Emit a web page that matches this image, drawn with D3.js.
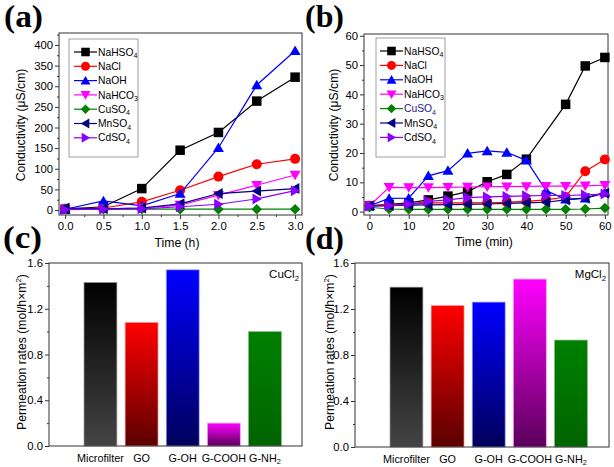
<!DOCTYPE html>
<html><head><meta charset="utf-8">
<script src="https://cdn.jsdelivr.net/npm/d3@7"></script>
<style>body{margin:0;background:#fff} svg{display:block;font-family:"Liberation Sans",Arial,sans-serif}</style>
</head><body><svg id="chart" width="614" height="467"></svg>
<script>
// ---------- DATA ----------
const seriesNames = ["NaHSO4","NaCl","NaOH","NaHCO3","CuSO4","MnSO4","CdSO4"];

// panel (a): time in hours
const timeHours = [0, 0.5, 1.0, 1.5, 2.0, 2.5, 3.0];
const aNaHSO4 = [2, 8, 52, 145, 188, 264, 322];
const aNaCl   = [3, 5, 20, 48, 81, 111, 124];
const aNaOH   = [2, 22, 10, 40, 151, 303, 386];
const aNaHCO3 = [2, 3, 5, 12, 36, 60, 85];
const aCuSO4  = [3, 2, 2, 2, 2, 2, 2];
const aMnSO4  = [5, 3, 5, 15, 40, 46, 52];
const aCdSO4  = [1, 2, 3, 8, 14, 27, 47];

// panel (b): time in minutes
const timeMin = [0, 5, 10, 15, 20, 25, 30, 35, 40, 45, 50, 55, 60];
const bNaHSO4 = [2, 2.5, 3, 4, 5.3, 6.8, 10.2, 12.7, 17.9, null, 36.6, 49.7, 52.6];
const bNaCl   = [2, 2.5, 2.5, 3, 3, 3, 3, 3.2, 3.5, 4, 5, 13.8, 17.8];
const bNaOH   = [2, 4.5, 4.6, 12.2, 14, 19.9, 20.7, 20.2, 17.5, 7.2, 4.2, 4.6, 6.6];
const bNaHCO3 = [2, 8.3, 8.2, 8.2, 8.3, 8.4, 8.5, 8.5, 8.6, 8.7, 8.7, 8.8, 9.0];
const bCuSO4  = [1.5, 0.9, 0.8, 0.8, 0.8, 0.8, 0.8, 0.8, 0.8, 0.8, 0.8, 0.9, 1.2];
const bMnSO4  = [2, 2, 2.2, 2.3, 2.4, 2.5, 2.6, 2.8, 3, 3.2, 4, 4.6, 6.3];
const bCdSO4  = [1.8, 2, 2.5, 3.5, 4, 4.8, 5, 5.2, 5.4, 5.5, 5.5, 5.7, 6];

// panels (c),(d)
const membranes = ["Microfilter", "GO", "G-OH", "G-COOH", "G-NH2"];
const cuCl2Rates = [1.43, 1.08, 1.54, 0.20, 1.00];
const mgCl2Rates = [1.39, 1.23, 1.26, 1.46, 0.93];

// ticks
const aXTicks = [0, 0.5, 1.0, 1.5, 2.0, 2.5, 3.0];
const aYTicks = [0, 50, 100, 150, 200, 250, 300, 350, 400];
const bXTicks = [0, 10, 20, 30, 40, 50, 60];
const bYTicks = [0, 10, 20, 30, 40, 50, 60];
const rateTicks = [0.0, 0.4, 0.8, 1.2, 1.6];

// ---------- STYLE ----------
const seriesColors = ["#000000", "#ff0000", "#0000ff", "#ff00ff", "#008000", "#000080", "#8a00ff"];
const seriesShapes = ["square", "circle", "up", "down", "diamond", "left", "right"];
const barTop = ["#000000", "#ff0000", "#0000ff", "#ff00ff", "#008000"];
const barBottom = ["#444444", "#5a0000", "#00005a", "#5a005a", "#006400"];
const barStroke = ["#999999", "#ff9999", "#9999ff", "#ff99ff", "#88bb88"];

const svg = d3.select("#chart");
const axisColor = "#333";

function markerPath(shape, s) {
  const h = s / 2;
  switch (shape) {
    case "square": return `M${-h*0.95},${-h*0.95}H${h*0.95}V${h*0.95}H${-h*0.95}Z`;
    case "circle": return d3.symbol(d3.symbolCircle, Math.PI * h * h)();
    case "up": return `M0,${-h*1.05}L${h*1.1},${h*0.85}L${-h*1.1},${h*0.85}Z`;
    case "down": return `M0,${h*1.05}L${h*1.1},${-h*0.85}L${-h*1.1},${-h*0.85}Z`;
    case "diamond": return `M0,${-h*1.05}L${h*1.05},0L0,${h*1.05}L${-h*1.05},0Z`;
    case "left": return `M${-h*1.05},0L${h*0.85},${-h*1.1}L${h*0.85},${h*1.1}Z`;
    case "right": return `M${h*1.05},0L${-h*0.85},${-h*1.1}L${-h*0.85},${h*1.1}Z`;
  }
}

function chemText(sel, str, size) {
  const parts = str.split(/(\d+)/).filter(p => p.length);
  let shifted = false;
  parts.forEach(p => {
    const t = sel.append("tspan").text(p);
    if (/^\d+$/.test(p)) {
      t.attr("font-size", size * 0.68).attr("dy", size * 0.25);
      shifted = true;
    } else if (shifted) {
      t.attr("dy", -size * 0.25);
      shifted = false;
    }
  });
}

function styleAxis(g) {
  g.select(".domain").remove();
  g.selectAll("line").attr("stroke", axisColor).attr("stroke-width", 1);
  g.selectAll("text").attr("fill", "#000").attr("font-size", 11.3)
    .attr("font-family", '"Liberation Sans",Arial,sans-serif');
}

function panelLabel(text, x, y) {
  svg.append("text").attr("x", x).attr("y", y).text(text)
    .attr("font-family", '"Liberation Serif","Times New Roman",serif')
    .attr("font-weight", "bold").attr("font-size", 31)
    .attr("textLength", 39).attr("lengthAdjust", "spacingAndGlyphs");
}

function linePanel(cfg) {
  const { left, right, top, bottom, xDomain, yDomain, xs, ys, xTicks, yTicks, xMinor, yMinor, xFmt, legend } = cfg;
  const x = d3.scaleLinear().domain(xDomain).range([left, right]);
  const y = d3.scaleLinear().domain(yDomain).range([bottom, top]);

  svg.append("g").attr("transform", `translate(0,${bottom})`)
    .call(d3.axisBottom(x).tickValues(xMinor).tickSize(2).tickFormat("")).call(styleAxis);
  svg.append("g").attr("transform", `translate(0,${bottom})`)
    .call(d3.axisBottom(x).tickValues(xTicks).tickSize(4).tickPadding(3).tickFormat(xFmt)).call(styleAxis);
  svg.append("g").attr("transform", `translate(${left},0)`)
    .call(d3.axisLeft(y).tickValues(yMinor).tickSize(2).tickFormat("")).call(styleAxis);
  svg.append("g").attr("transform", `translate(${left},0)`)
    .call(d3.axisLeft(y).tickValues(yTicks).tickSize(4).tickPadding(2).tickFormat(d3.format("d"))).call(styleAxis);

  svg.append("rect").attr("x", left).attr("y", top).attr("width", right - left).attr("height", bottom - top)
    .attr("fill", "none").attr("stroke", axisColor).attr("stroke-width", 1);

  const clipId = "clip" + left;
  svg.append("clipPath").attr("id", clipId).append("rect")
    .attr("x", left).attr("y", top - 6).attr("width", right - left + 6).attr("height", bottom - top + 6);
  const plot = svg.append("g").attr("clip-path", `url(#${clipId})`);

  ys.forEach((vals, i) => {
    const pts = xs.map((t, j) => [t, vals[j]]).filter(p => p[1] !== null);
    plot.append("path").datum(pts)
      .attr("d", d3.line().x(d => x(d[0])).y(d => y(d[1])))
      .attr("fill", "none").attr("stroke", seriesColors[i]).attr("stroke-width", 1.2);
    plot.selectAll(null).data(pts).enter().append("path")
      .attr("transform", d => `translate(${x(d[0])},${y(d[1])})`)
      .attr("d", markerPath(seriesShapes[i], 10))
      .attr("fill", seriesColors[i]);
  });

  // legend
  const lg = svg.append("g");
  lg.append("rect").attr("x", legend.x).attr("y", legend.y).attr("width", legend.w).attr("height", legend.h)
    .attr("fill", "#fff").attr("stroke", "#888").attr("stroke-width", 0.8);
  seriesNames.forEach((name, i) => {
    const yy = legend.y0 + i * legend.dy;
    lg.append("line").attr("x1", legend.lx1).attr("x2", legend.lx2).attr("y1", yy).attr("y2", yy)
      .attr("stroke", seriesColors[i]).attr("stroke-width", 1.2);
    lg.append("path").attr("transform", `translate(${(legend.lx1 + legend.lx2) / 2},${yy})`)
      .attr("d", markerPath(seriesShapes[i], 9)).attr("fill", seriesColors[i]);
    const t = lg.append("text").attr("x", legend.lx2 + 1).attr("y", yy + 3.6).attr("font-size", 10.3)
      .attr("fill", (legend.textColors && legend.textColors[i]) || "#000");
    chemText(t, name, 10.3);
  });
  return { x, y };
}

// ---------- PANEL (a) ----------
linePanel({
  left: 59, right: 302, top: 33, bottom: 215,
  xDomain: [-0.08, 3.09], yDomain: [-12, 429],
  xs: timeHours,
  ys: [aNaHSO4, aNaCl, aNaOH, aNaHCO3, aCuSO4, aMnSO4, aCdSO4],
  xTicks: aXTicks, yTicks: aYTicks,
  xMinor: d3.range(0.25, 3.01, 0.5), yMinor: d3.range(25, 426, 50),
  xFmt: d3.format(".1f"),
  legend: { x: 69, y: 39, w: 69, h: 118, y0: 52, dy: 14.3, lx1: 74, lx2: 97 }
});
svg.append("text").attr("transform", "translate(25,125) rotate(-90)").attr("text-anchor", "middle")
  .attr("font-size", 12.2).text("Conductivity (μS/cm)");
svg.append("text").attr("x", 177).attr("y", 246.5).attr("text-anchor", "middle").attr("font-size", 12.2).text("Time (h)");
panelLabel("(a)", 4, 27);

// ---------- PANEL (b) ----------
linePanel({
  left: 364, right: 608, top: 34, bottom: 215,
  xDomain: [-1.4, 60.8], yDomain: [-1.15, 60.6],
  xs: timeMin,
  ys: [bNaHSO4, bNaCl, bNaOH, bNaHCO3, bCuSO4, bMnSO4, bCdSO4],
  xTicks: bXTicks, yTicks: bYTicks,
  xMinor: d3.range(5, 60, 10), yMinor: d3.range(5, 60, 10),
  xFmt: d3.format("d"),
  legend: { x: 376, y: 38, w: 69, h: 119, y0: 51, dy: 14.4, lx1: 380, lx2: 403,
            textColors: ["#000", "#000", "#000", "#000", "#1a1a80", "#000", "#000"] }
});
svg.append("text").attr("transform", "translate(338,125) rotate(-90)").attr("text-anchor", "middle")
  .attr("font-size", 12.2).text("Conductivity (μS/cm)");
svg.append("text").attr("x", 484).attr("y", 245.5).attr("text-anchor", "middle").attr("font-size", 12.2).text("Time (min)");
panelLabel("(b)", 305, 27);

// ---------- BAR PANELS ----------
const defs = svg.append("defs");
barTop.forEach((c, i) => {
  const g = defs.append("linearGradient").attr("id", "grad" + i).attr("x1", 0).attr("y1", 0).attr("x2", 0).attr("y2", 1);
  g.append("stop").attr("offset", "0%").attr("stop-color", c);
  g.append("stop").attr("offset", "100%").attr("stop-color", barBottom[i]);
});

function barPanel(cfg) {
  const { left, right, top, bottom, values, salt } = cfg;
  const x = d3.scaleBand().domain(membranes).range([left + 35, left + 232.4]).paddingInner(0.2).paddingOuter(0);
  const y = d3.scaleLinear().domain([0, 1.6]).range([bottom, top]);

  svg.append("g").attr("transform", `translate(${left},0)`)
    .call(d3.axisLeft(y).tickValues(d3.range(0.2, 1.6, 0.4)).tickSize(2).tickFormat("")).call(styleAxis);
  svg.append("g").attr("transform", `translate(${left},0)`)
    .call(d3.axisLeft(y).tickValues(rateTicks).tickSize(4).tickPadding(2).tickFormat(d3.format(".1f"))).call(styleAxis);

  svg.selectAll(null).data(values).enter().append("rect")
    .attr("x", (d, i) => x(membranes[i]))
    .attr("width", x.bandwidth())
    .attr("y", d => y(d))
    .attr("height", d => y(0) - y(d))
    .attr("fill", (d, i) => `url(#grad${i})`)
    .attr("stroke", (d, i) => barStroke[i]).attr("stroke-width", 0.7);

  svg.append("rect").attr("x", left).attr("y", top).attr("width", right - left).attr("height", bottom - top)
    .attr("fill", "none").attr("stroke", axisColor).attr("stroke-width", 1);

  membranes.forEach((m, i) => {
    const t = svg.append("text").attr("x", x(m) + x.bandwidth() / 2).attr("y", bottom + 15.5)
      .attr("text-anchor", "middle").attr("font-size", 10.8);
    chemText(t, m, 10.8);
  });
  const st = svg.append("text").attr("x", right - 3).attr("y", top + 15).attr("text-anchor", "end").attr("font-size", 11.5);
  chemText(st, salt, 11.5);
}

barPanel({ left: 49, right: 302, top: 263, bottom: 446, values: cuCl2Rates, salt: "CuCl2" });
barPanel({ left: 355, right: 609, top: 263, bottom: 447, values: mgCl2Rates, salt: "MgCl2" });

function rateLabel(xp) {
  const t = svg.append("text").attr("transform", `translate(${xp},352) rotate(-90)`).attr("text-anchor", "middle").attr("font-size", 12.2);
  t.append("tspan").text("Permeation rates (mol/h×m");
  t.append("tspan").text("2").attr("font-size", 8).attr("dy", -5);
  t.append("tspan").text(")").attr("dy", 5);
}
rateLabel(26);
rateLabel(334);
panelLabel("(c)", 3, 248);
panelLabel("(d)", 305, 249);
</script></body></html>
